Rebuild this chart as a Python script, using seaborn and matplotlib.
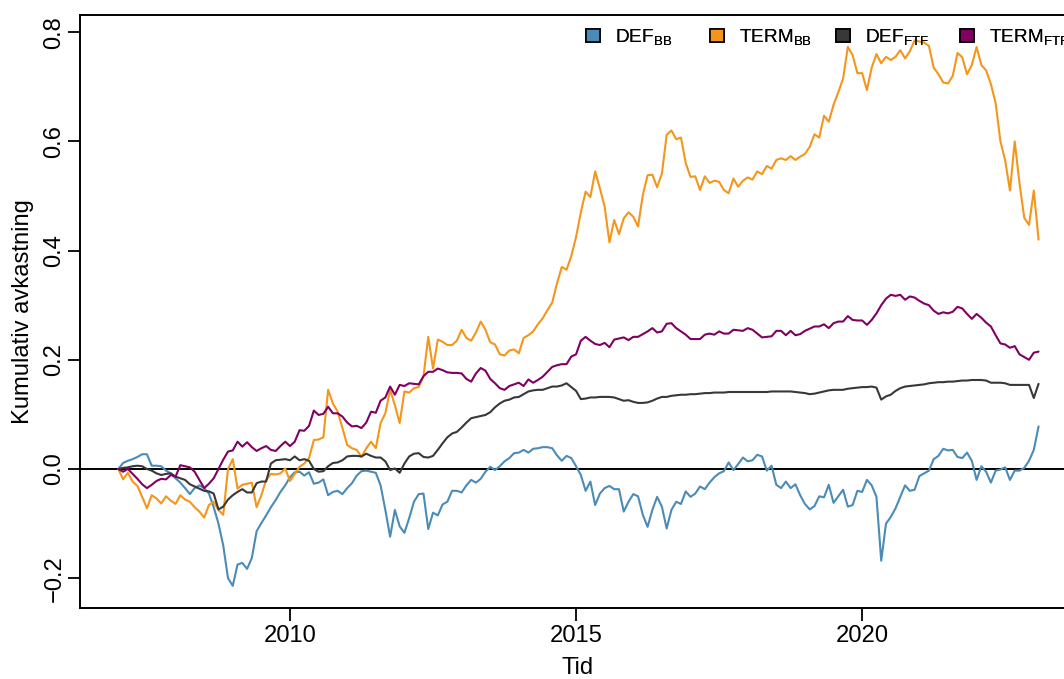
import numpy as np
import pandas as pd
import matplotlib
matplotlib.use("Agg")
import matplotlib.pyplot as plt
from matplotlib.patches import Patch
import seaborn as sns

# ---------------- data (monthly, Jan 2007 .. Feb 2023) ----------------
start_month = "2007-01-01"

def_bb = [
    0.0, 0.011, 0.015, 0.018, 0.022, 0.027, 0.027, 0.006, 0.006, 0.005, -0.003, -0.008,
    -0.017, -0.025, -0.035, -0.046, -0.035, -0.030, -0.035, -0.045, -0.07, -0.10, -0.14, -0.20,
    -0.214, -0.175, -0.172, -0.183, -0.163, -0.114, -0.099, -0.085, -0.07, -0.057, -0.042, -0.03,
    -0.015, -0.006, -0.005, -0.012, -0.006, -0.027, -0.025, -0.019, -0.048, -0.042, -0.04, -0.046,
    -0.035, -0.026, -0.012, -0.004, -0.003, -0.005, -0.007, -0.03, -0.075, -0.124, -0.075, -0.105,
    -0.117, -0.09, -0.06, -0.046, -0.045, -0.11, -0.08, -0.085, -0.065, -0.06, -0.04, -0.04,
    -0.043, -0.03, -0.02, -0.025, -0.018, -0.005, 0.004, -0.002, 0.005, 0.014, 0.02, 0.029,
    0.03, 0.035, 0.03, 0.037, 0.038, 0.04, 0.04, 0.038, 0.025, 0.015, 0.024, 0.02,
    0.005, -0.011, -0.04, -0.023, -0.066, -0.045, -0.035, -0.031, -0.037, -0.037, -0.078, -0.06,
    -0.046, -0.05, -0.084, -0.106, -0.075, -0.051, -0.069, -0.109, -0.075, -0.06, -0.064, -0.041,
    -0.051, -0.045, -0.032, -0.037, -0.025, -0.015, -0.008, -0.004, 0.012, -0.002, 0.009, 0.021,
    0.014, 0.016, 0.026, 0.023, -0.003, 0.006, -0.029, -0.035, -0.023, -0.035, -0.028, -0.048,
    -0.064, -0.074, -0.068, -0.05, -0.052, -0.029, -0.062, -0.05, -0.038, -0.069, -0.066, -0.04,
    -0.042, -0.02, -0.03, -0.051, -0.168, -0.1, -0.088, -0.072, -0.051, -0.03, -0.04, -0.038,
    -0.013, -0.008, -0.003, 0.018, 0.024, 0.037, 0.034, 0.035, 0.022, 0.02, 0.03, 0.015,
    -0.02, 0.005, -0.005, -0.025, -0.003, -0.001, 0.003, -0.02, -0.003, -0.003, 0.002, 0.015,
    0.035, 0.078,
]

term_bb = [
    0.0, -0.019, -0.007, -0.023, -0.031, -0.051, -0.072, -0.048, -0.054, -0.063, -0.05, -0.058,
    -0.064, -0.048, -0.056, -0.06, -0.07, -0.078, -0.089, -0.066, -0.06, -0.075, -0.084, 0.0,
    0.018, -0.036, -0.029, -0.027, -0.025, -0.07, -0.048, -0.02, -0.009, -0.01, -0.008, 0.001,
    -0.022, -0.009, 0.004, 0.01, 0.02, 0.053, 0.054, 0.058, 0.145, 0.12, 0.105, 0.075,
    0.044, 0.038, 0.035, 0.022, 0.038, 0.05, 0.038, 0.084, 0.102, 0.145, 0.117, 0.084,
    0.142, 0.14, 0.148, 0.15, 0.17, 0.242, 0.184, 0.237, 0.233, 0.227, 0.227, 0.235,
    0.255, 0.24, 0.235, 0.25, 0.27, 0.255, 0.232, 0.228, 0.21, 0.208, 0.217, 0.219,
    0.212, 0.24, 0.245, 0.252, 0.265, 0.276, 0.291, 0.305, 0.34, 0.37, 0.365, 0.39,
    0.425, 0.47, 0.508, 0.498, 0.545, 0.514, 0.48, 0.415, 0.456, 0.43, 0.459, 0.47,
    0.462, 0.444, 0.502, 0.538, 0.539, 0.516, 0.541, 0.612, 0.62, 0.604, 0.607, 0.56,
    0.535, 0.536, 0.511, 0.536, 0.524, 0.528, 0.526, 0.511, 0.505, 0.532, 0.517, 0.528,
    0.534, 0.53, 0.545, 0.54, 0.555, 0.55, 0.566, 0.569, 0.566, 0.573, 0.566, 0.572,
    0.577, 0.59, 0.613, 0.607, 0.647, 0.636, 0.667, 0.69, 0.715, 0.773, 0.758, 0.725,
    0.725, 0.694, 0.735, 0.76, 0.743, 0.755, 0.749, 0.755, 0.767, 0.752, 0.765, 0.785,
    0.783, 0.781, 0.775, 0.735, 0.723, 0.708, 0.706, 0.72, 0.762, 0.754, 0.723, 0.74,
    0.773, 0.74, 0.73, 0.705, 0.67, 0.6, 0.565, 0.51, 0.6, 0.523, 0.46, 0.447,
    0.51, 0.42,
]

def_ftf = [
    0.0, 0.002, 0.003, 0.005, 0.006, 0.005, 0.0, -0.003, -0.008, -0.011, -0.009, -0.008,
    -0.014, -0.017, -0.02, -0.028, -0.032, -0.036, -0.04, -0.041, -0.045, -0.074, -0.069, -0.056,
    -0.048, -0.042, -0.037, -0.043, -0.043, -0.026, -0.023, -0.023, 0.01, 0.016, 0.017, 0.018,
    0.016, 0.023, 0.016, 0.018, 0.015, 0.0, -0.005, -0.004, 0.005, 0.011, 0.012, 0.016,
    0.023, 0.024, 0.024, 0.023, 0.028, 0.024, 0.021, 0.021, 0.014, -0.002, 0.001, -0.007,
    0.01, 0.023, 0.028, 0.029, 0.022, 0.021, 0.024, 0.035, 0.047, 0.058, 0.065, 0.068,
    0.076, 0.085, 0.093, 0.095, 0.097, 0.099, 0.104, 0.113, 0.12, 0.125, 0.127, 0.131,
    0.132, 0.137, 0.142, 0.144, 0.145, 0.145, 0.148, 0.151, 0.151, 0.153, 0.157, 0.15,
    0.143, 0.128, 0.129, 0.131, 0.131, 0.132, 0.132, 0.132, 0.131, 0.128, 0.125, 0.126,
    0.123, 0.121, 0.121, 0.122, 0.125, 0.129, 0.132, 0.132, 0.134, 0.135, 0.136, 0.136,
    0.137, 0.137, 0.138, 0.139, 0.139, 0.14, 0.14, 0.14, 0.141, 0.141, 0.141, 0.141,
    0.141, 0.141, 0.141, 0.141, 0.141, 0.142, 0.142, 0.142, 0.142, 0.142, 0.141, 0.14,
    0.139, 0.137, 0.138, 0.14, 0.142, 0.144, 0.145, 0.145, 0.145, 0.147, 0.148, 0.149,
    0.15, 0.15, 0.151, 0.149, 0.127, 0.133, 0.136, 0.143, 0.148, 0.151, 0.152, 0.153,
    0.154, 0.155, 0.157, 0.158, 0.159, 0.159, 0.16, 0.16, 0.161, 0.162, 0.162, 0.163,
    0.163, 0.163, 0.162, 0.158, 0.158, 0.158, 0.157, 0.154, 0.154, 0.154, 0.154, 0.154,
    0.13, 0.156,
]

term_ftf = [
    0.0, -0.005, 0.0, -0.009, -0.018, -0.028, -0.035, -0.029, -0.022, -0.018, -0.019, -0.011,
    -0.014, 0.007, 0.005, 0.003, -0.005, -0.02, -0.035, -0.027, -0.017, 0.0, 0.017, 0.032,
    0.034, 0.05, 0.041, 0.049, 0.04, 0.033, 0.038, 0.042, 0.035, 0.033, 0.042, 0.05,
    0.042, 0.05, 0.071, 0.07, 0.079, 0.107, 0.099, 0.101, 0.114, 0.102, 0.102, 0.096,
    0.085, 0.078, 0.079, 0.075, 0.085, 0.105, 0.103, 0.125, 0.131, 0.151, 0.136, 0.154,
    0.152, 0.157, 0.156, 0.155, 0.17, 0.178, 0.178, 0.184, 0.181, 0.177, 0.176, 0.176,
    0.175, 0.165, 0.16, 0.175, 0.185, 0.18, 0.165, 0.157, 0.148, 0.145, 0.152, 0.155,
    0.158, 0.152, 0.164, 0.158, 0.163, 0.169, 0.178, 0.187, 0.19, 0.192, 0.192, 0.206,
    0.21, 0.235, 0.242, 0.235, 0.229, 0.227, 0.231, 0.223, 0.237, 0.239, 0.241, 0.236,
    0.242, 0.242, 0.247, 0.252, 0.258, 0.25, 0.252, 0.266, 0.267, 0.258, 0.252, 0.246,
    0.238, 0.238, 0.238, 0.246, 0.248, 0.246, 0.252, 0.248, 0.248, 0.255, 0.254, 0.253,
    0.258, 0.255, 0.248, 0.241, 0.242, 0.243, 0.253, 0.253, 0.245, 0.253, 0.245, 0.247,
    0.253, 0.257, 0.261, 0.261, 0.265, 0.258, 0.267, 0.27, 0.27, 0.28, 0.273, 0.272,
    0.272, 0.264, 0.273, 0.285, 0.3, 0.312, 0.319, 0.317, 0.319, 0.31, 0.316, 0.314,
    0.308, 0.303, 0.3, 0.29, 0.284, 0.287, 0.285, 0.288, 0.297, 0.294, 0.284, 0.275,
    0.284, 0.277, 0.268, 0.261, 0.245, 0.23, 0.228, 0.222, 0.225, 0.21, 0.205, 0.2,
    0.213, 0.215,
]

series_names = ["DEF_BB", "TERM_BB", "DEF_FTF", "TERM_FTF"]
legend_labels = [r"DEF$_{\mathrm{BB}}$", r"TERM$_{\mathrm{BB}}$",
                 r"DEF$_{\mathrm{FTF}}$", r"TERM$_{\mathrm{FTF}}$"]
colors = ["#4A8BB8", "#F5961C", "#383838", "#800063"]

x_ticks = [2010, 2015, 2020]
y_ticks = [-0.2, 0.0, 0.2, 0.4, 0.6, 0.8]
x_label = "Tid"
y_label = "Kumulativ avkastning"

# ---------------- build long table ----------------
dates = pd.date_range(start_month, periods=len(def_bb), freq="MS")
tid = dates.year + (dates.month - 1) / 12.0
frames = []
for name, vals in zip(series_names, [def_bb, term_bb, def_ftf, term_ftf]):
    frames.append(pd.DataFrame({"Tid": tid, "value": vals, "series": name}))
df = pd.concat(frames, ignore_index=True)

# ---------------- style ----------------
sns.set_style("ticks")
plt.rcParams["font.family"] = ["Liberation Sans", "DejaVu Sans"]
plt.rcParams["mathtext.fontset"] = "custom"
plt.rcParams["mathtext.rm"] = "Liberation Sans"
plt.rcParams["mathtext.it"] = "Liberation Sans:italic"
plt.rcParams["mathtext.bf"] = "Liberation Sans:bold"
plt.rcParams["axes.unicode_minus"] = True
plt.rcParams["text.color"] = "black"
plt.rcParams["axes.labelcolor"] = "black"
plt.rcParams["xtick.color"] = "black"
plt.rcParams["ytick.color"] = "black"
plt.rcParams["axes.edgecolor"] = "black"

W, H = 1064, 679
fig = plt.figure(figsize=(W / 100, H / 100), dpi=100)
# axes box (R-style, right edge falls outside the figure)
left_px, right_px, top_px, bottom_px = 80, 1075, 15, 608
ax = fig.add_axes([left_px / W, 1 - bottom_px / H,
                   (right_px - left_px) / W, (bottom_px - top_px) / H])

palette = dict(zip(series_names, colors))
sns.lineplot(data=df, x="Tid", y="value", hue="series", hue_order=series_names,
             palette=palette, linewidth=1.5, legend=False, ax=ax, estimator=None)

ax.axhline(0, color="black", linewidth=1.4, zorder=1)

ax.set_xlim(2006.33, 2023.72)
ax.set_ylim(-0.2546, 0.8315)
ax.set_xticks(x_ticks)
ax.set_xticklabels([str(v) for v in x_ticks])
ax.set_yticks(y_ticks)
ax.set_yticklabels([f"{v:.1f}".replace("-", "\u2212") for v in y_ticks],
                   rotation=90, va="center")

fs = 17.1
ax.tick_params(axis="both", direction="out", length=9, width=1.3,
               color="black", labelsize=fs, labelcolor="black")
ax.tick_params(axis="x", pad=3)
ax.tick_params(axis="y", pad=1.5)
for s in ax.spines.values():
    s.set_visible(True)
    s.set_linewidth(1.4)
    s.set_color("black")

ax.set_xlabel(x_label, fontsize=fs, color="black")
ax.set_ylabel(y_label, fontsize=fs, color="black")
ax.xaxis.set_label_coords((578 - left_px) / (right_px - left_px), -(668 - bottom_px) / (bottom_px - top_px))
ax.yaxis.set_label_coords(-(left_px - 23) / (right_px - left_px), 0.5)
ax.xaxis.label.set_va("center")
ax.yaxis.label.set_va("center")
ax.grid(False)

# legend: R-style horizontal legend, one entry per fixed column
square_x = [586, 710, 836, 960]
leg_y = 1 - 37 / H
for sx, lab, c in zip(square_x, legend_labels, colors):
    h = Patch(facecolor=c, edgecolor="black", linewidth=1.2)
    leg = fig.legend([h], [lab], loc="center left", bbox_to_anchor=(sx / W, leg_y),
                     frameon=False, fontsize=fs * 0.8, borderaxespad=0, borderpad=0,
                     handlelength=0.72, handleheight=0.72, handletextpad=0.8,
                     labelcolor="black")
    fig.add_artist(leg)

fig.savefig("out.png", dpi=100)
